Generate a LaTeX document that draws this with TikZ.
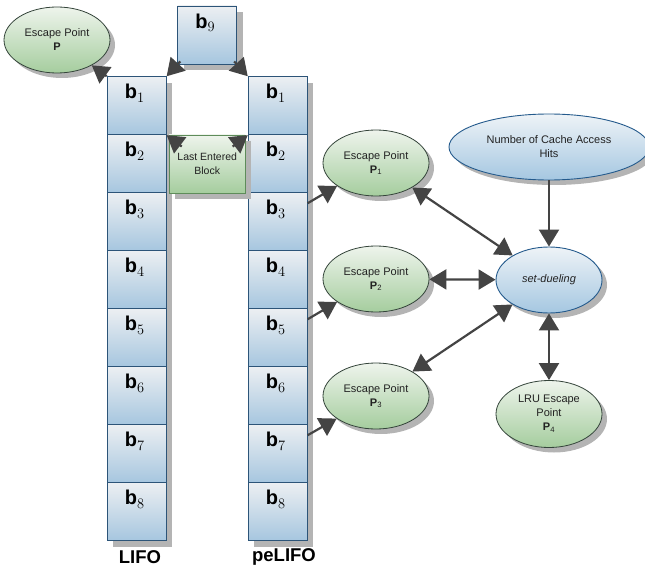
\documentclass[tikz,border=0pt]{standalone}
\usepackage{fontspec}
\setmainfont{Liberation Sans}
\usetikzlibrary{shapes.geometric,shadows,arrows.meta,calc}

\definecolor{celltop}{HTML}{ECEFF2}
\definecolor{cellbot}{HTML}{A6C6DF}
\definecolor{cellline}{HTML}{2C5478}
\definecolor{greentop}{HTML}{EEF4EC}
\definecolor{greenbot}{HTML}{A5CD9E}
\definecolor{greenline}{HTML}{34443A}
\definecolor{boxline}{HTML}{5E8C5A}
\definecolor{bluetop}{HTML}{EEF3F7}
\definecolor{bluebot}{HTML}{A5C7E1}
\definecolor{blueline}{HTML}{245A8C}
\definecolor{shgray}{HTML}{B4B4B4}
\definecolor{arrowgray}{HTML}{444444}
\definecolor{txt}{HTML}{222222}

\tikzset{
  cellbox/.style={rectangle, minimum width=59pt, minimum height=58pt, inner sep=0pt,
    draw=cellline, line width=0.9pt, top color=celltop, bottom color=cellbot,
    drop shadow={shadow xshift=6pt, shadow yshift=-6pt, fill=shgray, opacity=1}},
  greenell/.style={ellipse, minimum width=106pt, minimum height=66pt, inner sep=0pt,
    draw=greenline, line width=0.8pt, top color=greentop, bottom color=greenbot,
    align=center, font=\fontsize{11}{14}\selectfont, text=txt,
    drop shadow={shadow xshift=5pt, shadow yshift=-5pt, fill=shgray, opacity=1}},
  blueell/.style={ellipse, minimum width=106pt, minimum height=66pt, inner sep=0pt,
    draw=blueline, line width=0.9pt, top color=bluetop, bottom color=bluebot,
    align=center, font=\fontsize{11}{14}\selectfont, text=txt,
    drop shadow={shadow xshift=5pt, shadow yshift=-5pt, fill=shgray, opacity=1}},
  greenbox/.style={rectangle, minimum width=76pt, minimum height=58pt, inner sep=0pt,
    draw=boxline, line width=0.9pt, top color=greentop, bottom color=greenbot,
    align=center, font=\fontsize{10.5}{14}\selectfont, text=txt,
    drop shadow={shadow xshift=6pt, shadow yshift=-6pt, fill=shgray, opacity=1}},
  blabel/.style={anchor=north, inner sep=0pt, font=\fontsize{20}{24}\selectfont},
  stacklabel/.style={font=\fontsize{18.5}{22}\selectfont\bfseries},
  conn/.style={draw=arrowgray, line width=2.2pt,
    -{Triangle[length=17pt,width=20pt]}},
  dconn/.style={draw=arrowgray, line width=2.2pt,
    {Triangle[length=17pt,width=20pt]}-{Triangle[length=17pt,width=20pt]}},
}

\newcommand{\blk}[1]{$\textbf{b}_{#1}$}

\begin{document}
\begin{tikzpicture}[x=1pt,y=-1pt]
\useasboundingbox (0,0) rectangle (645,572);

% the two block stacks
\foreach \i in {1,...,8}{
  \node[cellbox] (L\i) at (136.7,{76.7+29+58*(\i-1)}) {};
  \node[blabel] at ($(L\i.north)+(-2,8)$) {\blk{\i}};
}
\foreach \i in {1,...,8}{
  \node[cellbox] (R\i) at (277.7,{76.7+29+58*(\i-1)}) {};
  \node[blabel] at ($(R\i.north)+(-2,8)$) {\blk{\i}};
}

% incoming block and last entered block
\node[cellbox] (b9) at (207.2,35) {};
\node[blabel] at ($(b9.north)+(-2,8)$) {\blk{9}};
\node[greenbox] (leb) at (207.2,164) {Last Entered\\Block};

% stack names
\node[stacklabel] (lifo) at (140,557) {LIFO};
\node[stacklabel] (pelifo) at (284,557) {peLIFO};

% escape points
\node[greenell] (ep) at (57,40) {Escape Point\\\textbf{P}};
\node[greenell] (p1) at (376,163) {Escape Point\\\textbf{P}\textsubscript{1}};
\node[greenell] (p2) at (376,279) {Escape Point\\\textbf{P}\textsubscript{2}};
\node[greenell] (p3) at (376,396) {Escape Point\\\textbf{P}\textsubscript{3}};
\node[greenell, minimum height=67pt] (p4) at (549,414) {LRU Escape\\Point\\\textbf{P}\textsubscript{4}};

% set dueling and its input
\node[blueell] (sd) at (549,280) {\textit{set-dueling}};
\node[blueell, minimum width=200pt] (hits) at (549,147) {Number of Cache Access\\Hits};

% connectors
\draw[conn] (L1.north west) -- (ep);
\coordinate (b9a) at ($(b9.south west)+(3,-3)$);
\coordinate (b9b) at ($(b9.south east)+(-3,-3)$);
\draw[conn] (b9a) -- (L1.north east);
\draw[conn] (b9b) -- (R1.north west);
\coordinate (lebA) at ($(leb.north west)+(13,12)$);
\coordinate (lebB) at ($(leb.north east)+(-13,12)$);
\draw[conn] (lebA) -- (L1.south east);
\draw[conn] (lebB) -- (R1.south west);

\draw[conn] ($(R3.north east)+(0,11)$) -- (p1);
\draw[conn] ($(R5.north east)+(0,11)$) -- (p2);
\draw[conn] ($(R7.north east)+(0,11)$) -- (p3);

\draw[dconn] (p1) -- (sd);
\draw[dconn] (p2) -- (sd);
\draw[dconn] (p3) -- (sd);
\draw[conn] (hits) -- (sd);
\draw[dconn] (sd) -- (p4);
\end{tikzpicture}
\end{document}
